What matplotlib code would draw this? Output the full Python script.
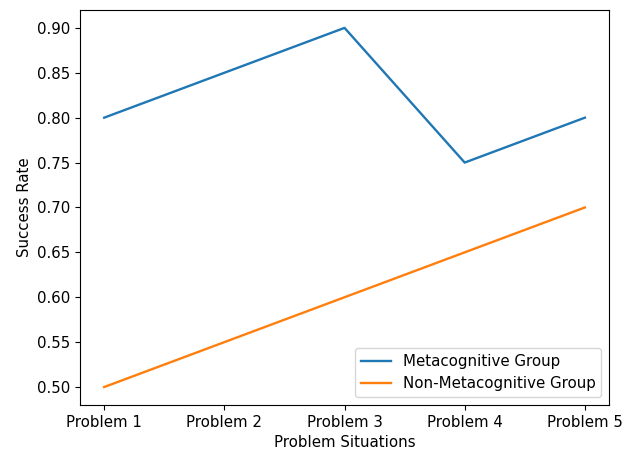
import matplotlib
matplotlib.use("Agg")
import matplotlib.pyplot as plt

problems = ["Problem 1", "Problem 2", "Problem 3", "Problem 4", "Problem 5"]
metacognitive = [0.80, 0.85, 0.90, 0.75, 0.80]
non_metacognitive = [0.50, 0.55, 0.60, 0.65, 0.70]

plt.rcParams["font.size"] = 10.8
fig = plt.figure(figsize=(6.31, 4.51), dpi=100)
ax = fig.add_axes([0.127, 0.102, 0.838, 0.876])
ax.plot(problems, metacognitive, label="Metacognitive Group", linewidth=1.7)
ax.plot(problems, non_metacognitive, label="Non-Metacognitive Group", linewidth=1.7)
ax.set_xlabel("Problem Situations")
ax.set_ylabel("Success Rate")
ax.legend(loc="lower right")
fig.savefig("out.png", dpi=100)
